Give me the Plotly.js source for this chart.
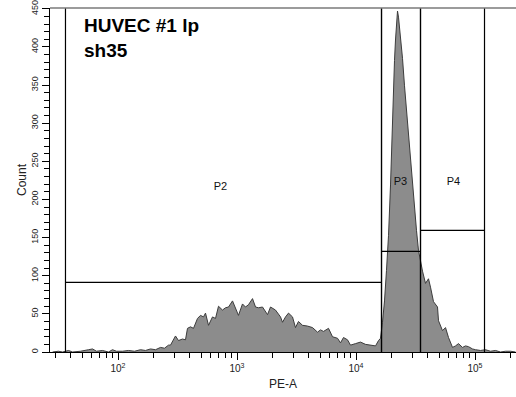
<!DOCTYPE html>
<html>
<head>
<meta charset="utf-8">
<script src="https://cdn.plot.ly/plotly-3.0.1.min.js"></script>
<style>
html,body{margin:0;padding:0;background:#fff;}
#chart{width:516px;height:397px;}
</style>
</head>
<body>
<div id="chart"></div>
<script>
// PE-A intensity (histogram bin positions) and counts
const peA = [28.2,31.6,34.2,38.4,41.5,48.4,56.5,61.1,66.0,74.1,83.2,89.9,97.1,109,122.5,137.6,154.6,170.2,187.6,206.6,227.6,245.9,265.7,276.2,304.2,322.5,348.3,369.1,383.7,406.6,430.9,465.7,493.5,523,543.6,576.1,622.5,659.7,699.1,755.4,800.5,848.3,916.6,971.4,1029,1112,1179,1249,1350,1431,1516,1638,1805,1912,2106,2321,2413,2556,2709,2927,3101,3286,3551,3912,4310,4748,5031,5332,5873,6346,6991,7408,7852,8483,8990,9904,10910,12020,13240,14590,15460,16070,16700,17360,18040,18760,19500,20260,21060,21470,21890,22320,22760,23650,24590,25560,26570,27620,28710,29840,31010,32250,33520,34830,36210,38370,39890,40660,42270,44800,48400,49350,53330,56510,59890,64720,68580,72670,78520,83220,88190,95280,101000,111200,122500,135000,148700,163800,180500,198800,218900];
const counts = [0,1,0,2,0,1,3,4,1,2,0,3,1,1,2,1,3,2,4,3,6,5,9,9,21,15,17,16,31,33,31,44,48,46,51,35,46,44,60,55,58,59,67,58,48,63,59,62,70,59,58,59,49,59,55,46,39,46,51,46,32,40,35,34,32,26,29,27,31,20,18,12,19,16,9,11,13,10,9,8,15,18,39,67,107,153,219,317,382,409,435,447,439,415,385,349,317,284,245,212,186,159,133,117,106,90,94,96,85,66,59,41,28,32,19,6,8,11,6,8,7,4,3,2,3,1,2,0,1,1,0];

// Gates: [name, left edge, right edge, level, label x, label y]
const gateNames  = ["P2", "P3", "P4"];
const gateLeft   = [36.2, 16380, 34830];
const gateRight  = [16380, 34830, 120200];
const gateLevel  = [91.3, 132, 159.5];
const labelX     = [727, 23650, 65970];
const labelY     = [216, 222, 222];

// Axis ticks
const yMajor = [0,50,100,150,200,250,300,350,400,450];
const yMinor = [10,20,30,40,60,70,80,90,110,120,130,140,160,170,180,190,210,220,230,240,260,270,280,290,310,320,330,340,360,370,380,390,410,420,430,440];
const xMajor = [100, 1000, 10000, 100000];
const xMajorText = ["10<sup>2</sup>", "10<sup>3</sup>", "10<sup>4</sup>", "10<sup>5</sup>"];
const xMinor = [30,40,50,60,70,80,90,200,300,400,500,600,700,800,900,2000,3000,4000,5000,6000,7000,8000,9000,20000,30000,40000,50000,60000,70000,80000,90000,200000];
const yTop = 451;

const gx = [], gy = [];
for (let i = 0; i < gateNames.length; i++) {
  gx.push(gateLeft[i], gateLeft[i], null, gateRight[i], gateRight[i], null, gateLeft[i], gateRight[i], null);
  gy.push(0, yTop, null, 0, yTop, null, gateLevel[i], gateLevel[i], null);
}

const traces = [
  {
    x: peA, y: counts, type: 'scatter', mode: 'lines',
    fill: 'tozeroy', fillcolor: '#8c8c8c',
    line: {color: '#3c3c3c', width: 1}, hoverinfo: 'skip', showlegend: false
  },
  {
    x: gx, y: gy, type: 'scatter', mode: 'lines',
    line: {color: '#000', width: 1.2}, hoverinfo: 'skip', showlegend: false, connectgaps: false
  },
  {
    x: labelX, y: labelY, text: gateNames, type: 'scatter', mode: 'text',
    textfont: {family: 'Liberation Sans, Arial, sans-serif', size: 11, color: '#111'},
    textposition: 'middle center', hoverinfo: 'skip', showlegend: false
  }
];

const layout = {
  width: 516, height: 397,
  margin: {l: 50, r: 0, t: 8, b: 45, pad: 0},
  paper_bgcolor: '#fff', plot_bgcolor: '#fff',
  font: {family: 'Liberation Sans, Arial, sans-serif', color: '#222'},
  xaxis: {
    type: 'log',
    range: [1.4286, 5.3445],
    showgrid: false, zeroline: false,
    showline: true, linecolor: '#000', linewidth: 1.3,
    ticks: 'outside', ticklen: 7, tickcolor: '#000', tickwidth: 1,
    tickmode: 'array', tickvals: xMajor, ticktext: xMajorText,
    tickfont: {size: 10, color: '#222'},
    minor: {tickmode: 'array', tickvals: xMinor, ticks: 'outside', ticklen: 5, tickcolor: '#000', tickwidth: 1, showgrid: false},
    title: {text: 'PE-A', font: {size: 12, color: '#222'}, standoff: 6}
  },
  yaxis: {
    range: [0, yTop],
    showgrid: false, zeroline: false,
    showline: true, linecolor: '#000', linewidth: 1.3,
    ticks: 'outside', ticklen: 7, tickcolor: '#000', tickwidth: 1,
    tickmode: 'array', tickvals: yMajor, ticktext: yMajor.map(String),
    tickangle: -90, ticklabeloverflow: 'allow',
    tickfont: {size: 9, color: '#222'},
    minor: {tickmode: 'array', tickvals: yMinor, ticks: 'outside', ticklen: 5, tickcolor: '#000', tickwidth: 1, showgrid: false},
    title: {text: 'Count', font: {size: 12, color: '#222'}, standoff: 1}
  },
  shapes: [
    {type: 'line', xref: 'paper', yref: 'paper', x0: 0, x1: 1, y0: 1, y1: 1, line: {color: '#7a7a7a', width: 1.5}}
  ],
  annotations: [
    {xref: 'paper', yref: 'paper', x: 0.068, y: 0.985, xanchor: 'left', yanchor: 'top', align: 'left', showarrow: false,
     text: '<b>HUVEC #1 lp<br>sh35</b>',
     font: {family: 'Liberation Sans, Arial, sans-serif', size: 19, color: '#000'}}
  ]
};

Plotly.newPlot('chart', traces, layout, {displayModeBar: false, staticPlot: true});
</script>
</body>
</html>
